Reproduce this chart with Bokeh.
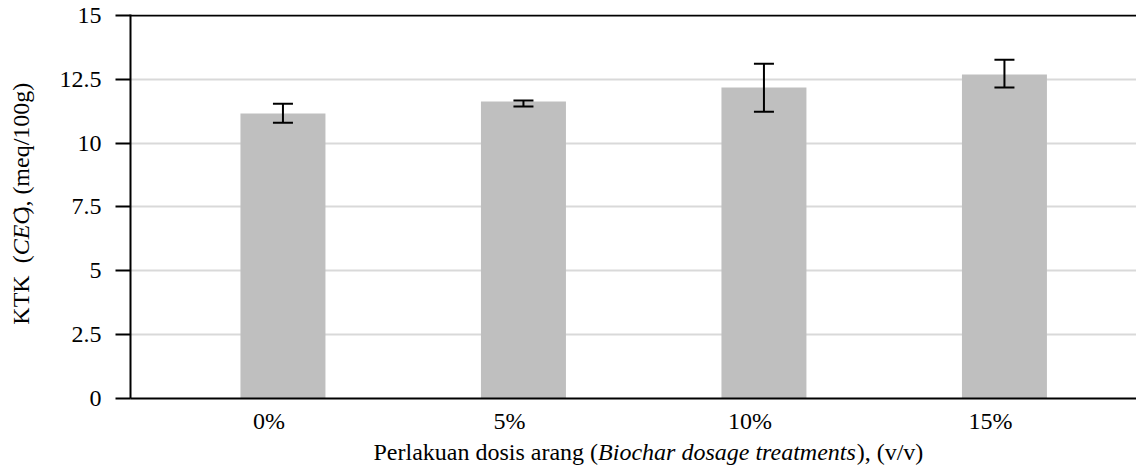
import math
from bokeh.plotting import figure
from bokeh.layouts import column, row
from bokeh.models import (ColumnDataSource, Range1d, FixedTicker, NumeralTickFormatter,
                          Span, Label)
from bokeh.embed import file_html
from bokeh.resources import INLINE

# ---- data ----
categories = ["0%", "5%", "10%", "15%"]
cec_values = [11.16, 11.63, 12.18, 12.69]
err_upper = [11.54, 11.67, 13.11, 13.27]
err_lower = [10.80, 11.44, 11.23, 12.18]
y_ticks = [0, 2.5, 5, 7.5, 10, 12.5, 15]

x_title_parts = ["Perlakuan dosis arang (", "Biochar dosage treatments", "), (v/v)"]
y_title_parts = ["KTK\u00a0\u00a0(", "CEC", "), (meq/100g)"]

FONT = "Liberation Serif"
BAR_OFFSET = 0.058
CAP_HALF = 0.0416

pos = list(range(len(categories)))
bar_x = [p_ + BAR_OFFSET for p_ in pos]
src = ColumnDataSource(dict(x=bar_x, top=cec_values, upper=err_upper, lower=err_lower,
                            cl=[x - CAP_HALF for x in bar_x], cr=[x + CAP_HALF for x in bar_x]))

YT_W, MAIN_H, XT_H, TOTAL_W = 50, 440, 26, 1136

p = figure(width=TOTAL_W - YT_W, height=MAIN_H, output_backend="svg", toolbar_location=None,
           x_range=Range1d(-0.5759, 3.6071), y_range=Range1d(0, 15.039),
           min_border_left=80, min_border_right=0, min_border_top=14, min_border_bottom=42)
p.outline_line_color = None
p.background_fill_color = "white"
p.border_fill_color = "white"

p.vbar(x="x", top="top", width=0.3534, bottom=0, source=src,
       fill_color="#bfbfbf", line_color=None)

# error bars
p.segment(x0="x", x1="x", y0="lower", y1="upper", source=src, line_color="black", line_width=2)
p.segment(x0="cl", x1="cr", y0="upper", y1="upper", source=src, line_color="black", line_width=2)
p.segment(x0="cl", x1="cr", y0="lower", y1="lower", source=src, line_color="black", line_width=2)

# top frame line
p.add_layout(Span(location=15, dimension="width", line_color="black", line_width=2))

# grid
p.xgrid.visible = False
p.ygrid.ticker = FixedTicker(ticks=y_ticks[:-1])
p.ygrid.grid_line_color = "#d9d9d9"
p.ygrid.grid_line_width = 2

# x axis
p.xaxis.ticker = FixedTicker(ticks=pos)
p.xaxis.major_label_overrides = {i: c for i, c in zip(pos, categories)}
p.xaxis.major_tick_out = 0
p.xaxis.major_tick_in = 0
p.xaxis.minor_tick_line_color = None
p.xaxis.axis_line_color = "black"
p.xaxis.axis_line_width = 2
p.xaxis.major_label_text_font = FONT
p.xaxis.major_label_text_font_size = "24px"
p.xaxis.major_label_text_color = "black"
p.xaxis.major_label_standoff = 9

# y axis
p.yaxis.ticker = FixedTicker(ticks=y_ticks)
p.yaxis.formatter = NumeralTickFormatter(format="0.[0]")
p.yaxis.major_tick_out = 15
p.yaxis.major_tick_in = 0
p.yaxis.major_tick_line_color = "black"
p.yaxis.major_tick_line_width = 2
p.yaxis.minor_tick_line_color = None
p.yaxis.axis_line_color = "black"
p.yaxis.axis_line_width = 2
p.yaxis.major_label_text_font = FONT
p.yaxis.major_label_text_font_size = "24px"
p.yaxis.major_label_text_color = "black"
p.yaxis.major_label_standoff = 14


def blank_fig(w, h):
    f = figure(width=w, height=h, output_backend="svg", toolbar_location=None,
               x_range=Range1d(0, w), y_range=Range1d(0, h),
               x_axis_location=None, y_axis_location=None,
               min_border=0, min_border_left=0, min_border_right=0,
               min_border_top=0, min_border_bottom=0)
    f.outline_line_color = None
    f.xgrid.visible = False
    f.ygrid.visible = False
    f.background_fill_color = "white"
    f.border_fill_color = "white"
    return f


TS = "24px"
styles = ["normal", "italic", "normal"]
aligns = ["right", "left", "left"]

# y title (rotated, reads bottom to top)
yt = blank_fig(YT_W, MAIN_H)
YA, YI, YX = 164.0, 46.7, 20
for txt, st, yy, al in zip(y_title_parts, styles, [YA, YA, YA + YI], aligns):
    yt.add_layout(Label(x=YX, y=yy, text=txt, angle=math.pi / 2,
                        text_font=FONT, text_font_size=TS, text_font_style=st,
                        text_color="black", text_align=al, text_baseline="middle"))

# x title
xt = blank_fig(TOTAL_W, XT_H)
XA, XI, XB = 597.6, 258.6, 15
for txt, st, xx, al in zip(x_title_parts, styles, [XA, XA, XA + XI], aligns):
    xt.add_layout(Label(x=xx, y=XB, text=txt,
                        text_font=FONT, text_font_size=TS, text_font_style=st,
                        text_color="black", text_align=al, text_baseline="middle"))

layout = column(row(yt, p, spacing=0), xt, spacing=0)
open("out.html", "w").write(file_html(layout, INLINE))
